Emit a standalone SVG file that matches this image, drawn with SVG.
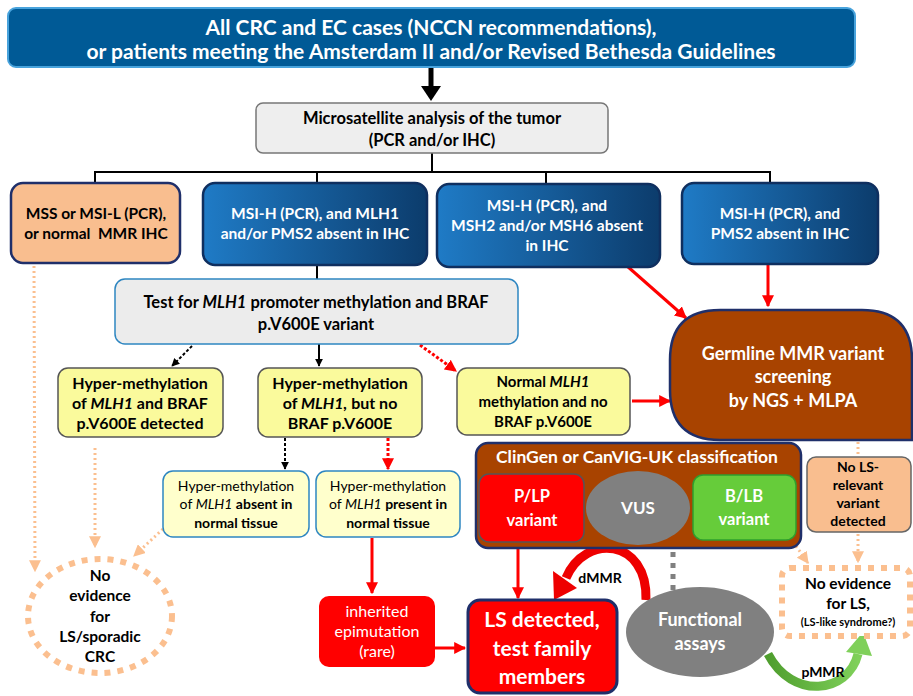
<svg xmlns="http://www.w3.org/2000/svg" width="913" height="696" viewBox="0 0 913 696">
<defs>
<linearGradient id="blueG" x1="0" y1="0" x2="1" y2="0">
<stop offset="0" stop-color="#1f7bc6"/><stop offset="1" stop-color="#0c3c6c"/>
</linearGradient>
<linearGradient id="greenG" x1="0" y1="0" x2="1" y2="0">
<stop offset="0" stop-color="#4f9e2e"/><stop offset="1" stop-color="#7fd05a"/>
</linearGradient>
<marker id="aBlack" viewBox="0 0 10 10" refX="9" refY="5" markerWidth="4" markerHeight="4" orient="auto"><path d="M0,0 L10,5 L0,10 z" fill="#000"/></marker>
<marker id="aRed" viewBox="0 0 10 10" refX="9" refY="5" markerWidth="4" markerHeight="4" orient="auto"><path d="M0,0 L10,5 L0,10 z" fill="#ff0000"/></marker>
<marker id="aOr" viewBox="0 0 10 10" refX="9" refY="5" markerWidth="4" markerHeight="4" orient="auto"><path d="M0,0 L10,5 L0,10 z" fill="#fbbf8f"/></marker>
</defs>
<style>
.t{font-family:Lato,"Liberation Sans",sans-serif;font-weight:bold;text-anchor:middle;fill:#000}
.w{fill:#fff}
.n{font-weight:normal}
.i{font-style:italic}
.blue{fill:url(#blueG);stroke:#0f2f5f;stroke-width:2.5}
.yel{fill:#fafa9c;stroke:#555;stroke-width:1.5}
.pale{fill:#ffffcc;stroke:#2e86c1;stroke-width:1.5}
.blk{stroke:#000;stroke-width:2;fill:none}
.red{stroke:#ff0000;stroke-width:3;fill:none}
.orng{stroke:#fbbf8f;stroke-width:3;stroke-dasharray:2 3;fill:none}
</style>

<g id="connectors">
<line x1="431" y1="67" x2="431" y2="88" stroke="#000" stroke-width="5"/>
<polygon points="421,86 441,86 431,101" fill="#000"/>
<polyline class="blk" points="432,153 432,172"/>
<polyline class="blk" points="95,183 95,172 770,172 770,183"/>
<line class="blk" x1="317" y1="172" x2="317" y2="183"/>
<line class="blk" x1="546" y1="172" x2="546" y2="184"/>
<line class="blk" x1="317" y1="265" x2="317" y2="279"/>
<line class="blk" x1="192" y1="346" x2="172" y2="366" stroke-dasharray="3 2" stroke-width="2.5" marker-end="url(#aBlack)"/>
<line class="blk" x1="319" y1="344" x2="319" y2="366" marker-end="url(#aBlack)"/>
<line class="red" x1="420" y1="345" x2="456" y2="371" stroke-dasharray="3 2" stroke-width="2.5" marker-end="url(#aRed)"/>
<line class="red" x1="627" y1="266" x2="686" y2="318" marker-end="url(#aRed)"/>
<line class="red" x1="768" y1="265" x2="768" y2="306" marker-end="url(#aRed)"/>
<line class="red" x1="632" y1="401" x2="670" y2="401" marker-end="url(#aRed)"/>
<line class="blk" x1="285" y1="438" x2="285" y2="469" stroke-dasharray="3 2" stroke-width="2.5" marker-end="url(#aBlack)"/>
<line class="red" x1="388" y1="438" x2="388" y2="469" stroke-dasharray="3 2" stroke-width="2.5" marker-end="url(#aRed)"/>
<line class="red" x1="372" y1="538" x2="372" y2="593" marker-end="url(#aRed)"/>
<line class="red" x1="435" y1="648" x2="465" y2="648" marker-end="url(#aRed)"/>
<line class="red" x1="518" y1="546" x2="518" y2="598" marker-end="url(#aRed)"/>
<line class="orng" x1="34" y1="266" x2="35" y2="571" marker-end="url(#aOr)"/>
<line class="orng" x1="95" y1="448" x2="95" y2="547" marker-end="url(#aOr)"/>
<line class="orng" x1="163" y1="529" x2="134" y2="556" marker-end="url(#aOr)"/>
<line class="orng" x1="858" y1="442" x2="858" y2="456"/>
<line class="orng" x1="858" y1="534" x2="858" y2="562" marker-end="url(#aOr)"/>
<line class="orng" x1="796" y1="546" x2="808" y2="563" marker-end="url(#aOr)"/>
<line x1="673" y1="541" x2="673" y2="590" stroke="#808080" stroke-width="5" stroke-dasharray="5 6"/>
<path d="M646,600 C648,538 585,533 566,578" stroke="#ee0000" stroke-width="9" fill="none"/>
<polygon points="577,588 554,600 553,571" fill="#ee0000"/>
<text class="t" x="600" y="583" font-size="14">dMMR</text>
<path d="M768,654 C792,700 848,694 858,654" stroke="url(#greenG)" stroke-width="9" fill="none"/>
<polygon points="846,652 863,632 872,656" fill="#7fd05a"/>
<text class="t" x="823" y="677" font-size="14">pMMR</text>
</g>

<g id="n-top">
<rect x="8" y="8" width="847" height="59" rx="8" fill="#005a96" stroke="#48a3dc" stroke-width="2"/>
<text class="t w" x="431" y="35" font-size="21">All CRC and EC cases (NCCN recommendations),</text>
<text class="t w" x="431" y="59" font-size="21">or patients meeting the Amsterdam II and/or Revised Bethesda Guidelines</text>
</g>

<g id="n-msa">
<rect x="256" y="103" width="352" height="50" rx="7" fill="#eeeeee" stroke="#777" stroke-width="1.5"/>
<text class="t" x="432" y="124" font-size="16.5">Microsatellite analysis of the tumor</text>
<text class="t" x="432" y="146" font-size="16.5">(PCR and/or IHC)</text>
</g>

<g id="n-mss">
<rect x="11" y="183" width="169" height="80" rx="12" fill="#f9be8f" stroke="#1f2f6a" stroke-width="2.5"/>
<text class="t" x="96" y="219" font-size="15.5">MSS or MSI-L (PCR),</text>
<text class="t" x="96" y="239" font-size="15.5">or normal&#160; MMR IHC</text>
</g>

<g id="n-mlh1">
<rect class="blue" x="203" y="183" width="224" height="82" rx="12"/>
<text class="t w" x="315" y="219" font-size="15.5">MSI-H (PCR), and MLH1</text>
<text class="t w" x="315" y="239" font-size="15.5">and/or PMS2 absent in IHC</text>
</g>

<g id="n-msh2">
<rect class="blue" x="437" y="184" width="223" height="83" rx="12"/>
<text class="t w" x="547" y="211" font-size="15.5">MSI-H (PCR), and</text>
<text class="t w" x="547" y="231" font-size="15.5">MSH2 and/or MSH6 absent</text>
<text class="t w" x="547" y="251" font-size="15.5">in IHC</text>
</g>

<g id="n-pms2">
<rect class="blue" x="682" y="183" width="196" height="81" rx="12"/>
<text class="t w" x="780" y="219" font-size="15.5">MSI-H (PCR), and</text>
<text class="t w" x="780" y="239" font-size="15.5">PMS2 absent in IHC</text>
</g>

<g id="n-test">
<rect x="115" y="279" width="403" height="65" rx="10" fill="#ececec" stroke="#2e86c1" stroke-width="1.5"/>
<text class="t" x="316" y="308" font-size="16.5">Test for <tspan class="i">MLH1</tspan> promoter methylation and BRAF</text>
<text class="t" x="316" y="330" font-size="16.5">p.V600E variant</text>
</g>

<g id="n-hyper1">
<rect class="yel" x="58" y="368" width="165" height="69" rx="10"/>
<text class="t" x="140" y="389" font-size="16">Hyper-methylation</text>
<text class="t" x="140" y="409" font-size="16">of <tspan class="i">MLH1</tspan> and BRAF</text>
<text class="t" x="140" y="429" font-size="16">p.V600E detected</text>
</g>

<g id="n-hyper2">
<rect class="yel" x="258" y="368" width="164" height="69" rx="10"/>
<text class="t" x="340" y="389" font-size="16">Hyper-methylation</text>
<text class="t" x="340" y="409" font-size="16">of <tspan class="i">MLH1,</tspan> but no</text>
<text class="t" x="340" y="429" font-size="16">BRAF p.V600E</text>
</g>

<g id="n-normal">
<rect class="yel" x="457" y="368" width="173" height="67" rx="10"/>
<text class="t" x="543" y="387" font-size="15">Normal <tspan class="i">MLH1</tspan></text>
<text class="t" x="543" y="407" font-size="15">methylation and no</text>
<text class="t" x="543" y="427" font-size="15">BRAF p.V600E</text>
</g>

<g id="n-absent">
<rect class="pale" x="163" y="471" width="146" height="66" rx="10"/>
<text class="t n" x="236" y="491" font-size="14">Hyper-methylation</text>
<text class="t" x="236" y="509" font-size="14"><tspan class="n">of </tspan><tspan class="n i">MLH1</tspan> absent in</text>
<text class="t" x="236" y="528" font-size="14">normal tissue</text>
</g>

<g id="n-present">
<rect class="pale" x="316" y="471" width="144" height="66" rx="10"/>
<text class="t n" x="388" y="491" font-size="14">Hyper-methylation</text>
<text class="t" x="388" y="509" font-size="14"><tspan class="n">of </tspan><tspan class="n i">MLH1</tspan> present in</text>
<text class="t" x="388" y="528" font-size="14">normal tissue</text>
</g>

<g id="n-germline">
<path d="M720,310 L862,310 Q912,310 912,360 L912,440 L720,440 Q670,440 670,390 L670,360 Q670,310 720,310 Z" fill="#a84300" stroke="#1f2f6a" stroke-width="2.5"/>
<text class="t w" x="793" y="360" font-size="18">Germline MMR variant</text>
<text class="t w" x="793" y="383" font-size="18">screening</text>
<text class="t w" x="793" y="407" font-size="18">by NGS + MLPA</text>
</g>

<g id="n-clingen">
<rect x="476" y="443" width="325" height="105" rx="12" fill="#a84300" stroke="#1f2f6a" stroke-width="2.5"/>
<text class="t w" x="637" y="463" font-size="17.5">ClinGen or CanVIG-UK classification</text>
</g>

<g id="n-plp">
<rect x="479" y="474" width="105" height="68" rx="10" fill="#ff0000" stroke="#555" stroke-width="1.5"/>
<text class="t w" x="532" y="502" font-size="16.5">P/LP</text>
<text class="t w" x="532" y="526" font-size="16.5">variant</text>
</g>

<g id="n-vus">
<ellipse cx="638" cy="508" rx="52" ry="37" fill="#808080"/>
<text class="t w" x="638" y="514" font-size="17">VUS</text>
</g>

<g id="n-blb">
<rect x="693" y="475" width="103" height="65" rx="10" fill="#66cc3a" stroke="#2e9e2e" stroke-width="1.5"/>
<text class="t w" x="744" y="502" font-size="16.5">B/LB</text>
<text class="t w" x="744" y="525" font-size="16.5">variant</text>
</g>

<g id="n-nols">
<rect x="807" y="457" width="104" height="75" rx="9" fill="#f9be8f" stroke="#666" stroke-width="1.5"/>
<text class="t" x="858" y="472" font-size="14">No LS-</text>
<text class="t" x="858" y="490" font-size="14">relevant</text>
<text class="t" x="858" y="508" font-size="14">variant</text>
<text class="t" x="858" y="526" font-size="14">detected</text>
</g>

<g id="n-noevls">
<rect x="782" y="568" width="128" height="68" rx="8" fill="#fff" stroke="#fbbf8f" stroke-width="6" stroke-dasharray="6 7"/>
<text class="t" x="848" y="589" font-size="15.5">No evidence</text>
<text class="t" x="848" y="609" font-size="15.5">for LS,</text>
<text class="t" x="848" y="626" font-size="11">(LS-like syndrome?)</text>
</g>

<g id="n-noevcrc">
<ellipse cx="100" cy="616" rx="72" ry="57" fill="#fff" stroke="#fbbf8f" stroke-width="6" stroke-dasharray="6 7"/>
<text class="t" x="100" y="581" font-size="15.5">No</text>
<text class="t" x="100" y="601" font-size="15.5">evidence</text>
<text class="t" x="100" y="622" font-size="15.5">for</text>
<text class="t" x="100" y="642" font-size="15.5">LS/sporadic</text>
<text class="t" x="100" y="662" font-size="15.5">CRC</text>
</g>

<g id="n-epi">
<rect x="319" y="596" width="116" height="71" rx="10" fill="#ff0000"/>
<text class="t w n" x="377" y="617" font-size="16">inherited</text>
<text class="t w n" x="377" y="637" font-size="16">epimutation</text>
<text class="t w n" x="377" y="657" font-size="16">(rare)</text>
</g>

<g id="n-ls">
<rect x="468" y="600" width="149" height="93" rx="12" fill="#ff0000" stroke="#1f2f6a" stroke-width="3"/>
<text class="t w" x="542" y="627" font-size="21">LS detected,</text>
<text class="t w" x="542" y="656" font-size="21">test family</text>
<text class="t w" x="542" y="684" font-size="21">members</text>
</g>

<g id="n-func">
<ellipse cx="700" cy="632" rx="74" ry="45" fill="#808080"/>
<text class="t w" x="700" y="626" font-size="18">Functional</text>
<text class="t w" x="700" y="650" font-size="18">assays</text>
</g>
</svg>
